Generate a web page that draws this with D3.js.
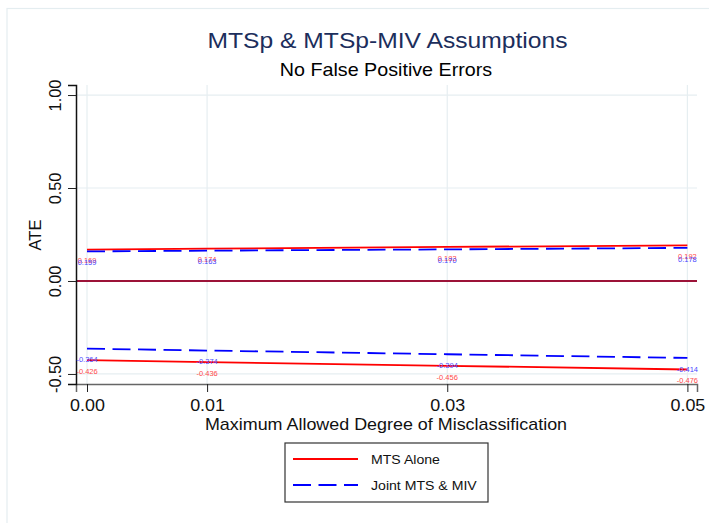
<!DOCTYPE html>
<html>
<head>
<meta charset="utf-8">
<script src="https://cdn.jsdelivr.net/npm/d3@7"></script>
<style>
  body { margin: 0; background: #fff; }
  text { font-family: "Liberation Sans", Arial, sans-serif; }
</style>
</head>
<body>
<div id="vis"></div>
<script>
const width = 709;
const height = 523;

// data
const misclass = [0, 0.01, 0.03, 0.05];
const mtsUpper = [0.169, 0.174, 0.183, 0.192];
const mtsLower = [-0.426, -0.436, -0.456, -0.476];
const mivUpper = [0.159, 0.163, 0.170, 0.178];
const mivLower = [-0.364, -0.374, -0.394, -0.414];
const xTicks = [0, 0.01, 0.03, 0.05];
const yTicks = [-0.5, 0, 0.5, 1];
const seriesNames = ["MTS Alone", "Joint MTS & MIV"];

const SX = 1.12; // text in the picture is a bit wider than tall

const svg = d3.select("#vis").append("svg")
  .attr("width", width).attr("height", height);

// outer graph region
svg.append("rect")
  .attr("x", 7).attr("y", 8.5).attr("width", 720).attr("height", 540)
  .attr("fill", "#fff").attr("stroke", "#e4edf0").attr("stroke-width", 1.2);

const x = d3.scaleLinear().domain([-0.000917, 0.0508]).range([76, 697]);
const y = d3.scaleLinear().domain([-0.554, 1.054]).range([384, 85]);

function hText(px, py, str, size, anchor, fill) {
  return svg.append("text")
    .attr("transform", `translate(${px},${py}) scale(${SX},1)`)
    .attr("text-anchor", anchor)
    .attr("font-size", size)
    .attr("fill", fill)
    .text(str);
}

// grid
svg.selectAll(".vgrid").data(xTicks).enter().append("line")
  .attr("x1", d => x(d)).attr("x2", d => x(d))
  .attr("y1", y.range()[1]).attr("y2", y.range()[0])
  .attr("stroke", "#e6eef1").attr("stroke-width", 1.2);
svg.selectAll(".hgrid").data(yTicks).enter().append("line")
  .attr("x1", x.range()[0]).attr("x2", x.range()[1])
  .attr("y1", d => y(d)).attr("y2", d => y(d))
  .attr("stroke", "#e6eef1").attr("stroke-width", 1.2);

// zero line
svg.append("line")
  .attr("x1", x.range()[0]).attr("x2", x.range()[1])
  .attr("y1", y(0)).attr("y2", y(0))
  .attr("stroke", "#9c1338").attr("stroke-width", 1.8);

// axes
const xAxis = svg.append("g")
  .attr("transform", `translate(0,${y.range()[0]})`)
  .call(d3.axisBottom(x).tickValues(xTicks).tickSizeOuter(0).tickSize(8)
    .tickFormat(d => d.toFixed(2)));
xAxis.select(".domain").attr("stroke", "#666").attr("stroke-width", 1.5);
xAxis.selectAll(".tick line").attr("stroke", "#222");
xAxis.selectAll(".tick text")
  .attr("y", 16).attr("font-size", 16).attr("fill", "#111")
  .attr("font-family", "Liberation Sans, Arial, sans-serif")
  .attr("transform", `scale(${SX},1)`);

const yAxis = svg.append("g")
  .attr("transform", `translate(${x.range()[0]},0)`)
  .call(d3.axisLeft(y).tickValues(yTicks).tickSizeOuter(0).tickSize(8)
    .tickFormat(d => d.toFixed(2)));
yAxis.select(".domain").attr("stroke", "#111").attr("stroke-width", 1.5);
yAxis.selectAll(".tick line").attr("stroke", "#222");
yAxis.selectAll(".tick text")
  .attr("transform", "rotate(-90)")
  .attr("x", 0).attr("y", -15).attr("dy", 0)
  .attr("text-anchor", "middle")
  .attr("font-size", 16.3).attr("fill", "#111")
  .attr("font-family", "Liberation Sans, Arial, sans-serif");

// series lines
const line = d3.line().x((d, i) => x(misclass[i])).y(d => y(d));

[mtsUpper, mtsLower].forEach(s => {
  svg.append("path").datum(s).attr("d", line)
    .attr("fill", "none").attr("stroke", "#ff0000").attr("stroke-width", 1.8);
});
[mivUpper, mivLower].forEach(s => {
  svg.append("path").datum(s).attr("d", line)
    .attr("fill", "none").attr("stroke", "#0000ff").attr("stroke-width", 1.8)
    .attr("stroke-dasharray", "18,7.5");
});

// value labels, under each point (they overlap in the original too)
function valueLabels(s, col) {
  s.forEach((v, i) => {
    hText(x(misclass[i]), y(v) + 13.8, v.toFixed(3), 6.7, "middle", col);
  });
}
valueLabels(mtsUpper, "#ff4a4a");
valueLabels(mtsLower, "#ff4a4a");
valueLabels(mivUpper, "#4a4aff");
valueLabels(mivLower, "#4a4aff");

// titles
hText(387.5, 48, "MTSp & MTSp-MIV Assumptions", 22, "middle", "#1c2e5c");
hText(386, 76, "No False Positive Errors", 17.6, "middle", "#000");
hText(386, 430, "Maximum Allowed Degree of Misclassification", 16, "middle", "#111");
svg.append("text")
  .attr("transform", "translate(41,235) rotate(-90)")
  .attr("text-anchor", "middle").attr("font-size", 16.5).attr("fill", "#111")
  .text("ATE");

// legend
svg.append("rect")
  .attr("x", 285).attr("y", 443).attr("width", 203).attr("height", 59)
  .attr("fill", "#fff").attr("stroke", "#333").attr("stroke-width", 1.2);
svg.append("line")
  .attr("x1", 293).attr("x2", 358).attr("y1", 459).attr("y2", 459)
  .attr("stroke", "#ff0000").attr("stroke-width", 1.8);
svg.append("line")
  .attr("x1", 293).attr("x2", 358).attr("y1", 485).attr("y2", 485)
  .attr("stroke", "#0000ff").attr("stroke-width", 1.8)
  .attr("stroke-dasharray", "18,7.5");
hText(371, 463.5, seriesNames[0], 12.6, "start", "#111");
hText(371, 489.5, seriesNames[1], 12.6, "start", "#111");
</script>
</body>
</html>
